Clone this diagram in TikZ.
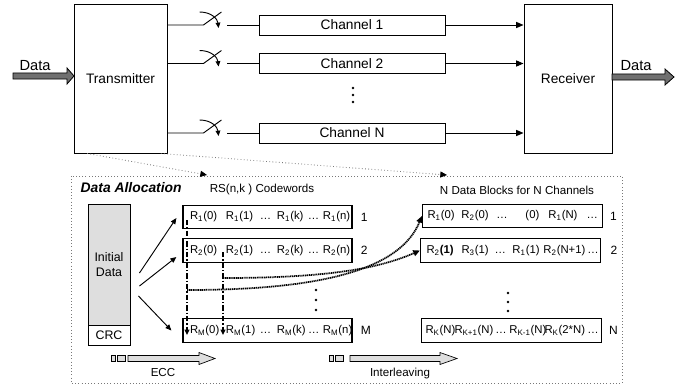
\documentclass[tikz,border=0pt]{standalone}
\usepackage{fontspec}
\setmainfont{Liberation Sans}
\usepackage{tikz}
\usetikzlibrary{arrows.meta,positioning}
\definecolor{datagray}{RGB}{112,112,112}
\definecolor{fillgray}{RGB}{222,222,222}
\definecolor{dotgray}{RGB}{120,120,120}
\newcommand{\Rs}[2]{R\textsubscript{#1}(#2)}
\newcommand{\cell}[2]{\makebox[#1][l]{#2}}
\tikzstyle{unitbox} = [rectangle, draw, line width=0.7pt, minimum width=69.75pt, minimum height=111.75pt, font=\fontsize{10.3}{12}\selectfont]
\tikzstyle{chanbox} = [rectangle, draw, line width=0.7pt, minimum width=139.5pt, minimum height=15pt, inner sep=0pt, font=\fontsize{10.3}{12}\selectfont]
\tikzstyle{cwbox} = [rectangle, draw, line width=0.9pt, minimum height=17.6pt, inner sep=0pt, font=\fontsize{8.5}{10}\selectfont]
\tikzstyle{sidebox} = [rectangle, draw, line width=0.7pt, minimum width=31.5pt, align=center, font=\fontsize{9.3}{11.5}\selectfont]
\tikzstyle{rowlabel} = [inner sep=0pt, font=\fontsize{9}{10}\selectfont]
\tikzstyle{arrow} = [line width=0.7pt, -{Triangle[length=5.5pt,width=4.5pt]}]
\tikzstyle{smallarrow} = [line width=0.7pt, -{Triangle[length=4.5pt,width=3.8pt]}]
\tikzstyle{dashdot} = [line width=1.1pt, dash pattern=on 4pt off 1.5pt on 1pt off 1.5pt, -{Triangle[length=4pt,width=3.5pt]}]
\tikzstyle{linkcurve} = [line width=1.3pt, dash pattern=on 0.9pt off 0.5pt, -{Triangle[length=5pt,width=4.5pt]}]
\tikzstyle{guide} = [dotgray, line width=0.6pt, dash pattern=on 0.6pt off 1.8pt, -{Triangle[length=5pt,width=4.5pt,color=black]}]
\tikzstyle{fatarrow} = [draw=black, line width=0.6pt, fill=datagray]
\tikzstyle{steparrow} = [draw=black, line width=0.5pt, fill=fillgray]

\begin{document}
\begin{tikzpicture}[x=0.75pt, y=-0.75pt]
\useasboundingbox (0,0) rectangle (695,385);
% transmission chain
\node[unitbox] (tx) at (120.5,78.5) {Transmitter};
\node[unitbox, minimum width=66pt] (rx) at (568,78.5) {Receiver};
\node[chanbox] (ch1) at (352,25) {Channel 1};
\node[chanbox] (ch2) at (352,63.5) {Channel 2};
\node[chanbox] (chN) at (352,133) {Channel N};
\foreach \y in {88,95,102} \fill (353,\y) circle (1.1pt);
\foreach \c in {ch1,ch2,chN} {
  \draw[line width=0.7pt] (tx.east |- \c.west) -- ++(36,0) -- ++(18,-13);
  \draw[line width=0.7pt, -{Triangle[length=4pt,width=3.5pt]}] ([shift={(-59,-13)}]\c.west) .. controls +(12,0) and +(-1,-9) .. ([shift={(-40,3)}]\c.west);
  \draw[line width=0.7pt] (\c.west) -- ++(-32,0);
  \draw[arrow] (\c.east) -- (\c.east -| rx.west);
}
\filldraw[fatarrow] (13,73) -- (67,73) -- (67,68) -- (74,76) -- (67,84) -- (67,79) -- (13,79) -- cycle;
\filldraw[fatarrow] (612,74) -- (665,74) -- (665,69) -- (674,77) -- (665,85) -- (665,80) -- (612,80) -- cycle;
\node[font=\fontsize{11}{12}\selectfont] (datain) at (35,66) {Data};
\node[font=\fontsize{11}{12}\selectfont] (dataout) at (636,66) {Data};

% data allocation frame
\draw[dotgray, line width=0.6pt, dash pattern=on 0.6pt off 1.8pt] (71,176) rectangle (622,383);
\coordinate (cwtip) at (207,175);
\coordinate (blktip) at (447,175);
\draw[guide] ([xshift=-25]tx.south) -- (cwtip);
\draw[guide] ([xshift=-5]tx.south east) -- (blktip);
\node[anchor=west, font=\fontsize{10.4}{12}\selectfont\bfseries\itshape] (alloc) at (76,188) {Data Allocation};
\node[font=\fontsize{8.7}{10}\selectfont] (cwhead) at (262,189) {RS(n,k ) Codewords};
\node[font=\fontsize{8.7}{10}\selectfont] (blkhead) at (517,190) {N Data Blocks for N Channels};

% initial data and codewords
\node[sidebox, fill=fillgray, minimum height=90.75pt] (init) at (109,264.5) {Initial\\Data};
\node[sidebox, minimum height=15pt, inner sep=0pt] (crc) at (109,335) {CRC};
\node[cwbox] (cw1) at (267.5,217) {\makebox[126.75pt][l]{\hspace*{5.25pt}\cell{27pt}{\Rs{1}{0}}\cell{25.5pt}{\Rs{1}{1}}\cell{12.75pt}{…}\cell{23.25pt}{\Rs{1}{k}}\cell{11.25pt}{…}\Rs{1}{n}}};
\node[cwbox] (cw2) at (267.5,250.5) {\makebox[126.75pt][l]{\hspace*{5.25pt}\cell{27pt}{\Rs{2}{0}}\cell{25.5pt}{\Rs{2}{1}}\cell{12.75pt}{…}\cell{23.25pt}{\Rs{2}{k}}\cell{11.25pt}{…}\Rs{2}{n}}};
\node[cwbox] (cwM) at (267.5,330.5) {\makebox[126.75pt][l]{\hspace*{5.25pt}\cell{27pt}{\Rs{M}{0}}\cell{25.5pt}{\Rs{M}{1}}\cell{12.75pt}{…}\cell{23.25pt}{\Rs{M}{k}}\cell{11.25pt}{…}\Rs{M}{n}}};
\node[rowlabel, right=6pt of cw1] (cwn1) {1};
\node[rowlabel, right=6pt of cw2] (cwn2) {2};
\node[rowlabel, right=6pt of cwM] (cwnM) {M};
\foreach \y in {290,300,310} \fill (316,\y) circle (1.1pt);
\draw[smallarrow] ([shift={(9,8.5)}]init.east) -- ([shift={(-6,1)}]cw1.west);
\draw[smallarrow] ([shift={(9,21.5)}]init.east) -- ([shift={(-6,6.5)}]cw2.west);
\draw[smallarrow] ([shift={(8,31.5)}]init.east) -- ([shift={(-11,0)}]cwM.west);

% blocks for the channels
\node[cwbox] (blk1) at (512.5,216) {\makebox[135pt][l]{\hspace*{3.75pt}\cell{25.5pt}{\Rs{1}{0}}\cell{26.25pt}{\Rs{2}{0}}\cell{21.75pt}{…}\cell{17.25pt}{(0)}\cell{28.5pt}{\Rs{1}{N}}…}};
\node[cwbox] (blk2) at (510.5,250.5) {\makebox[135pt][l]{\hspace*{4.5pt}\cell{26.25pt}{R\textsubscript{2}\textbf{(1)}}\cell{24.75pt}{\Rs{3}{1}}\cell{13.5pt}{…}\cell{23.25pt}{\Rs{1}{1}}\cell{33pt}{\Rs{2}{N+1}}…}};
\node[cwbox] (blkN) at (511.5,330.5) {\makebox[135pt][l]{\hspace*{3pt}\cell{21.75pt}{\Rs{K}{N}}\cell{30.75pt}{\Rs{K+1}{N}}\cell{10.5pt}{…}\cell{26.25pt}{\Rs{K-1}{N}}\cell{32.25pt}{\Rs{K}{2*N}}…}};
\node[rowlabel, right=5pt of blk1] (blkn1) {1};
\node[rowlabel, right=7pt of blk2] (blkn2) {2};
\node[rowlabel, right=5pt of blkN] (blknN) {N};
\foreach \y in {293,302,311} \fill (508,\y) circle (1.1pt);

% interleaving paths
\coordinate (col0) at (187,220);
\coordinate (col1) at (223,252);
\draw[dashdot] (col0) -- (col0 |- 0,335);
\draw[dashdot] (col1) -- (col1 |- 0,335);
\draw[linkcurve] (col0 |- 0,290) .. controls (320,290) and (400,270) .. (blk1.west);
\draw[linkcurve] (col1 |- 0,278) .. controls (330,278) and (380,268) .. (blk2.west);

% process steps
\filldraw[steparrow] (111,355.5) rectangle (115,361.5);
\filldraw[steparrow] (117,355.5) rectangle (125,361.5);
\filldraw[steparrow] (128,355.5) -- (199,355.5) -- (199,352.5) -- (215,358.5) -- (199,364.5) -- (199,361.5) -- (128,361.5) -- cycle;
\node[font=\fontsize{8.7}{10}\selectfont] (ecc) at (163,373) {ECC};
\filldraw[steparrow] (329,355.5) rectangle (333,361.5);
\filldraw[steparrow] (335,355.5) rectangle (343,361.5);
\filldraw[steparrow] (350,355.5) -- (440,355.5) -- (440,352.5) -- (457,358.5) -- (440,364.5) -- (440,361.5) -- (350,361.5) -- cycle;
\node[font=\fontsize{8.7}{10}\selectfont] (ilv) at (400,373) {Interleaving};
\end{tikzpicture}
\end{document}
